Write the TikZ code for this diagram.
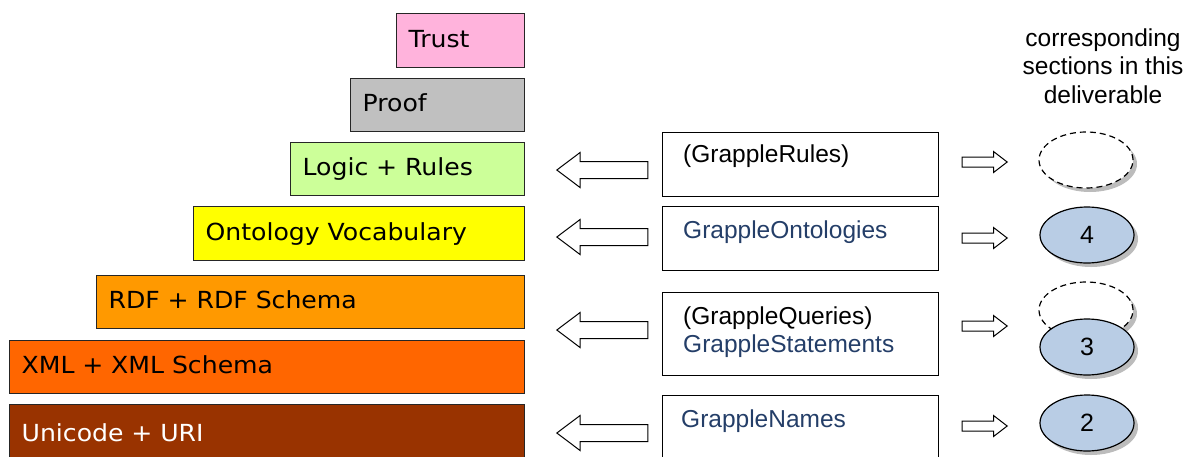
\documentclass[tikz,border=0pt]{standalone}
\usepackage{fontspec}
\usetikzlibrary{shapes.geometric,shapes.arrows}
\newfontfamily\layerfont[FakeStretch=1.07]{DejaVu Sans}
\newfontfamily\helvfont{Liberation Sans}
\definecolor{trustc}{RGB}{255,179,220}
\definecolor{proofc}{RGB}{192,192,192}
\definecolor{logicc}{RGB}{204,255,153}
\definecolor{ontoc}{RGB}{255,255,0}
\definecolor{rdfc}{RGB}{255,153,0}
\definecolor{xmlc}{RGB}{255,102,0}
\definecolor{unic}{RGB}{153,51,0}
\definecolor{ellc}{RGB}{185,205,229}
\definecolor{bluet}{RGB}{36,62,104}
\definecolor{shadowc}{RGB}{160,160,160}
\tikzset{
  layer/.style={draw=black!85, line width=1.2pt, anchor=north west, inner xsep=12pt, inner ysep=0pt,
    align=left, text height=18pt, text depth=5pt, font=\layerfont\fontsize{23.5}{27}\selectfont},
  midbox/.style={draw, line width=1pt, anchor=north west, inner sep=0pt},
  midtext/.style={anchor=west, inner sep=0pt, font=\helvfont\fontsize{24.5}{28}\selectfont},
  leftarrow/.style={single arrow, draw, line width=1pt, shape border rotate=180, inner xsep=0pt,
    inner ysep=8pt, minimum height=91pt, single arrow head extend=9pt, single arrow tip angle=74, anchor=tip},
  rightarrow/.style={single arrow, draw, line width=1pt, inner xsep=0pt,
    inner ysep=4.5pt, minimum height=45pt, single arrow head extend=5.5pt, single arrow tip angle=75, anchor=tip},
  sect/.style={ellipse, draw, line width=1.2pt, minimum width=94pt, minimum height=56pt, inner sep=0pt,
    font=\helvfont\fontsize{25}{28}\selectfont},
  secshadow/.style={ellipse, fill=shadowc, minimum width=94pt, minimum height=56pt, inner sep=0pt, opacity=0.7},
}
\begin{document}
\begin{tikzpicture}[x=1pt,y=-1pt]
\useasboundingbox (0,0) rectangle (1188,456);
% layer stack
\node[layer, fill=trustc, minimum height=54pt, text width=104pt] (trust) at (396,13) {Trust};
\node[layer, fill=proofc, minimum height=53pt, text width=150pt] (proof) at (350,78) {Proof};
\node[layer, fill=logicc, minimum height=53pt, text width=210pt] (logic) at (290,142) {Logic + Rules};
\node[layer, fill=ontoc, minimum height=54pt, text width=307pt] (onto) at (193,206) {Ontology Vocabulary};
\node[layer, fill=rdfc, minimum height=53pt, text width=404pt] (rdf) at (96,275) {RDF + RDF Schema};
\node[layer, fill=xmlc, minimum height=53pt, text width=491pt] (xml) at (9,340) {XML + XML Schema};
\node[layer, fill=unic, text=white, minimum height=60pt, text width=491pt] (uni) at (9,404) {Unicode + URI};
% middle boxes
\node[midbox, minimum width=276pt, minimum height=64pt] (b1) at (662,132) {};
\node[midbox, minimum width=276pt, minimum height=64pt] (b2) at (662,206) {};
\node[midbox, minimum width=276pt, minimum height=83pt] (b3) at (662,292) {};
\node[midbox, minimum width=276pt, minimum height=70pt] (b4) at (662,395) {};
\node[midtext] (t1) at (683,156) {(GrappleRules)};
\node[midtext, text=bluet] (t2) at (683,232) {GrappleOntologies};
\node[midtext] (t3a) at (683,318) {(GrappleQueries)};
\node[midtext, text=bluet] (t3b) at (683,346) {GrappleStatements};
\node[midtext, text=bluet] (t4) at (681,421) {GrappleNames};
% left block arrows
\node[leftarrow] (la1) at (556,170) {};
\node[leftarrow] (la2) at (556,237) {};
\node[leftarrow] (la3) at (556,330) {};
\node[leftarrow] (la4) at (556,433) {};
% right block arrows
\node[rightarrow] (ra1) at (1008,162) {};
\node[rightarrow] (ra2) at (1008,238) {};
\node[rightarrow] (ra3) at (1008,326) {};
\node[rightarrow] (ra4) at (1008,426) {};
% header
\node[align=center, inner sep=0pt, font=\helvfont\fontsize{24.5}{28.5}\selectfont] (hdr) at (1103,66)
  {corresponding\\sections in this\\deliverable};
% section ellipses
\node[secshadow] (s1sh) at (1090,164) {};
\node[sect, fill=white, dashed, dash pattern=on 6pt off 4pt] (s1) at (1086,160) {};
\node[secshadow] (s4sh) at (1091,239) {};
\node[sect, fill=ellc] (s4) at (1087,235) {4};
\node[secshadow] (s3xsh) at (1090,314) {};
\node[sect, fill=white, dashed, dash pattern=on 6pt off 4pt] (s3x) at (1086,310) {};
\node[secshadow] (s3sh) at (1091,351) {};
\node[sect, fill=ellc] (s3) at (1087,347) {3};
\node[secshadow] (s2sh) at (1091,427) {};
\node[sect, fill=ellc] (s2) at (1087,423) {2};
\end{tikzpicture}
\end{document}
